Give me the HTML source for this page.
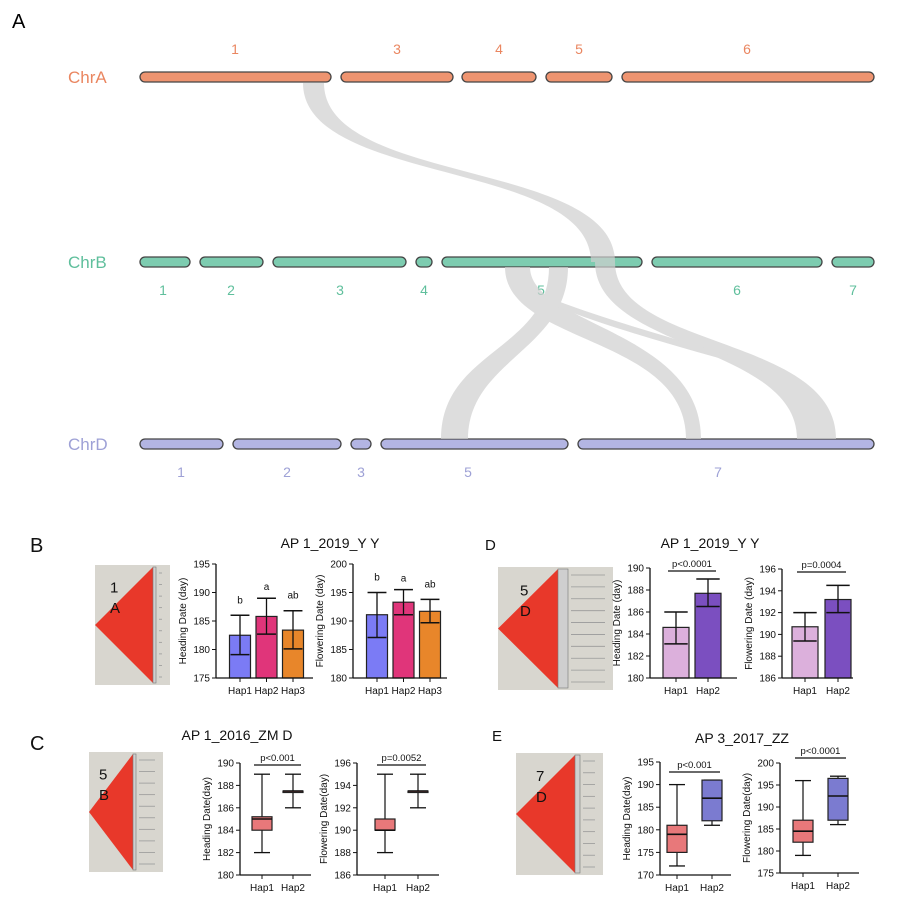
<!DOCTYPE html>
<html><head><meta charset="utf-8"><style>
html,body{margin:0;padding:0;background:#fff}
svg{display:block;font-family:"Liberation Sans",sans-serif}
</style></head><body>
<svg id="fig" width="924" height="910" viewBox="0 0 924 910" xmlns="http://www.w3.org/2000/svg">
<rect width="924" height="910" fill="#fff"/>
<text x="12" y="28" font-size="20">A</text>
<g id="chroms"></g>
<g id="ribbons" fill="#cfcfcf" opacity="0.7">
<path d="M303,83 C303,185 591,160 591,262 L615,262 C615,160 324,185 324,83 Z"/>
<path d="M595,262 C595,350 797,345 797,439 L836,439 C836,335 615,350 615,262 Z"/>
<path d="M549,267 C549,350 441,350 441,439 L468,439 C468,360 568,350 568,267 Z"/>
<path d="M505,267 C505,345 686,335 686,439 L701,439 C701,330 530,325 530,267 Z"/>
<path d="M555,300 C620,325 700,345 770,368 L770,373 C700,352 620,332 555,306 Z"/>
</g>
<g id="panels"></g>
</svg>
<script>
// Chromosome layout
const chrNames=["ChrA","ChrB","ChrD"];
const chrY=[77,262,444];
const chrFill=["#ee9470","#7dccb0","#b3b5e3"];
const chrText=["#ea8660","#5fbf9c","#9ea1d6"];
const chrSegs=[[[140,331],[341,453],[462,536],[546,612],[622,874]],
[[140,190],[200,263],[273,406],[416,432],[442,642],[652,822],[832,874]],
[[140,223],[233,341],[351,371],[381,568],[578,874]]];
const chrNums=[["1","3","4","5","6"],["1","2","3","4","5","6","7"],["1","2","3","5","7"]];
const chrNumX=[[235,397,499,579,747],[163,231,340,424,541,737,853],[181,287,361,468,718]];
const chrNumY=[54,295,477];

const NS="http://www.w3.org/2000/svg";
function mk(tag,attrs,parent,txt){const e=document.createElementNS(NS,tag);for(const k in attrs)e.setAttribute(k,attrs[k]);if(txt!==undefined)e.textContent=txt;parent.appendChild(e);return e;}
const cg=document.getElementById('chroms');
chrNames.forEach((n,i)=>{
  const t=mk('text',{x:68,y:chrY[i]+6,'font-size':17,fill:chrText[i]},cg,n);
  
  
  chrSegs[i].forEach(s=>{
    const r=mk('rect',{x:s[0],y:chrY[i]-5,width:s[1]-s[0],height:10,rx:5,fill:chrFill[i],stroke:'#444','stroke-width':1.3},cg);
    
    
  });
  chrNums[i].forEach((lab,j)=>{
    const tt=mk('text',{x:chrNumX[i][j],y:chrNumY[i],'font-size':14,fill:chrText[i],'text-anchor':'middle'},cg,lab);
    
    
  });
});

const pg=document.getElementById('panels');
function txt(x,y,s,size,name,anchor,extra){const t=mk('text',Object.assign({x:x,y:y,'font-size':size,'text-anchor':anchor||'start',fill:'#111'},extra||{}),pg,s);return t;}
txt(30,552,"B",20,"panel-label-b");
txt(485,550,"D",15,"panel-label-d");
txt(30,750,"C",20,"panel-label-c");
txt(492,741,"E",15,"panel-label-e");
txt(330,548,"AP 1_2019_Y Y",14,"title-b","middle");
txt(710,548,"AP 1_2019_Y Y",14,"title-d","middle");
txt(237,740,"AP 1_2016_ZM D",14,"title-c","middle");
txt(742,743,"AP 3_2017_ZZ",14,"title-e","middle");

// LD heatmaps (images)
function ld(x,y,w,h,tipX,redR,boxR,l1,l2,lx,name){
  const g=mk('g',{},pg);
  mk('rect',{x:x,y:y,width:w,height:h,fill:'#d8d6cf'},g);
  mk('polygon',{points:`${x},${y+h/2} ${redR},${y+2} ${redR},${y+h-2}`,fill:'#e8382a'},g);
  mk('rect',{x:redR,y:y+2,width:boxR-redR,height:h-4,fill:'#cfcfcf',stroke:'#777','stroke-width':0.6},g);
  for(let k=0;k<10;k++){mk('line',{x1:boxR+3,x2:x+w-8,y1:y+8+k*(h-16)/9,y2:y+8+k*(h-16)/9,stroke:'#999','stroke-width':0.8},g);}
  mk('text',{x:lx,y:y+h*0.23,'font-size':15,fill:'#111'},g,l1);
  mk('text',{x:lx,y:y+h*0.4,'font-size':15,fill:'#111'},g,l2);
}
ld(95,565,75,120,95,153,156,"1","A",110,"ld-heatmap-1a");
ld(498,567,115,123,498,558,568,"5","D",520,"ld-heatmap-5d");
ld(89,752,74,120,89,133,136,"5","B",99,"ld-heatmap-5b");
ld(516,753,87,122,516,575,580,"7","D",536,"ld-heatmap-7d");

// ---- chart data ----
const cats3=["Hap1","Hap2","Hap3"];
const cats2=["Hap1","Hap2"];
const bHeadMean=[182.5,185.8,183.4];
const bHeadLo=[179.1,182.7,180.1];
const bHeadHi=[186.0,189.0,186.8];
const bHeadTicks=[175,180,185,190,195];
const bHeadLetters=["b","a","ab"];
const bFlowMean=[191.1,193.3,191.7];
const bFlowLo=[187.1,191.1,189.7];
const bFlowHi=[195.0,195.5,193.8];
const bFlowTicks=[180,185,190,195,200];
const bFlowLetters=["b","a","ab"];
const dHeadMean=[184.6,187.7];
const dHeadLo=[183.1,186.5];
const dHeadHi=[186.0,189.0];
const dHeadTicks=[180,182,184,186,188,190];
const dFlowMean=[190.7,193.2];
const dFlowLo=[189.4,192.0];
const dFlowHi=[192.0,194.5];
const dFlowTicks=[186,188,190,192,194,196];
const cHeadMin=[182,186],cHeadQ1=[184,187.5],cHeadMed=[185,187.5],cHeadQ3=[185.2,187.5],cHeadMax=[189,189];
const cHeadTicks=[180,182,184,186,188,190];
const cFlowMin=[188,192],cFlowQ1=[190,193.5],cFlowMed=[190,193.5],cFlowQ3=[191,193.5],cFlowMax=[195,195];
const cFlowTicks=[186,188,190,192,194,196];
const eHeadMin=[172,181],eHeadQ1=[175,182],eHeadMed=[179,187],eHeadQ3=[181,191],eHeadMax=[190,191];
const eHeadTicks=[170,175,180,185,190,195];
const eFlowMin=[179,186],eFlowQ1=[182,187],eFlowMed=[184.5,192.5],eFlowQ3=[187,196.5],eFlowMax=[196,197];
const eFlowTicks=[175,180,185,190,195,200];

function axes(o){
  const g=mk('g',{},pg);
  const vmin=o.ticks[0],vmax=o.ticks[o.ticks.length-1];
  const Y=v=>o.yB-(v-vmin)/(vmax-vmin)*(o.yB-o.yT);
  const X=i=>o.x0+o.pad+i*o.step;
  o.ticks.forEach(t=>{mk('line',{x1:o.x0-4,x2:o.x0,y1:Y(t),y2:Y(t),stroke:'#111','stroke-width':1},g);
    const tl=mk('text',{x:o.x0-6,y:Y(t)+3.5,'font-size':o.fs||10,'text-anchor':'end',fill:'#111'},g,t);
    });
  o.cats.forEach((c,i)=>{mk('line',{x1:X(i),x2:X(i),y1:o.yB,y2:o.yB+4,stroke:'#111'},g);
    const cl=mk('text',{x:X(i),y:o.yB+16,'font-size':o.fs||10,'text-anchor':'middle',fill:'#111'},g,c);
    });
  const yl=mk('text',{x:0,y:0,'font-size':10,'text-anchor':'middle',fill:'#111',transform:`translate(${o.x0-30},${(o.yT+o.yB)/2}) rotate(-90)`},g,o.ylab);
  
  return {g,X,Y};
}
function drawAxisLines(g,o){mk('line',{x1:o.x0,x2:o.x0,y1:o.yT,y2:o.yB,stroke:'#111','stroke-width':1.3},g);
  mk('line',{x1:o.x0,x2:o.x1,y1:o.yB,y2:o.yB,stroke:'#111','stroke-width':1.3},g);}
function bars(o,mean,lo,hi,colors,letters){
  const {g,X,Y}=axes(o);
  mean.forEach((m,i)=>{
    const r=mk('rect',{x:X(i)-o.bw/2,y:Y(m),width:o.bw,height:o.yB-Y(m),fill:colors[i],stroke:'#222','stroke-width':1.2},g);
    
    mk('line',{x1:X(i),x2:X(i),y1:Y(lo[i]),y2:Y(hi[i]),stroke:'#111','stroke-width':1.3},g);
    [lo[i],hi[i]].forEach(v=>mk('line',{x1:X(i)-o.bw*0.45,x2:X(i)+o.bw*0.45,y1:Y(v),y2:Y(v),stroke:'#111','stroke-width':1.5},g));
    if(letters){const l=mk('text',{x:X(i),y:Y(hi[i])-8-(i===1?0:4),'font-size':10,'text-anchor':'middle',fill:'#111'},g,letters[i]);
      }
  });
  drawAxisLines(g,o);return {g,X,Y};
}
function boxes(o,mn,q1,md,q3,mx,colors){
  const {g,X,Y}=axes(o);
  mn.forEach((v,i)=>{
    mk('line',{x1:X(i),x2:X(i),y1:Y(mn[i]),y2:Y(mx[i]),stroke:'#111','stroke-width':1.2},g);
    [mn[i],mx[i]].forEach(w=>mk('line',{x1:X(i)-o.bw*0.4,x2:X(i)+o.bw*0.4,y1:Y(w),y2:Y(w),stroke:'#111','stroke-width':1.3},g));
    const r=mk('rect',{x:X(i)-o.bw/2,y:Y(q3[i]),width:o.bw,height:Math.max(1.5,Y(q1[i])-Y(q3[i])),fill:colors[i],stroke:'#222','stroke-width':1.2},g);
    
    mk('line',{x1:X(i)-o.bw/2,x2:X(i)+o.bw/2,y1:Y(md[i]),y2:Y(md[i]),stroke:'#111','stroke-width':1.6},g);
  });
  drawAxisLines(g,o);return {g,X,Y};
}
function pval(res,o,label,ly){
  const g=res.g;mk('line',{x1:res.X(0)-8,x2:res.X(1)+8,y1:ly,y2:ly,stroke:'#111','stroke-width':1.2},g);
  const t=mk('text',{x:(res.X(0)+res.X(1))/2,y:ly-4,'font-size':9.5,'text-anchor':'middle',fill:'#111'},g,label);
  
}

bars({name:'chart-b-heading',x0:216,x1:313,yT:564,yB:678,ticks:bHeadTicks,cats:cats3,pad:24,step:26.5,bw:21,ylab:'Heading Date (day)'},
  bHeadMean,bHeadLo,bHeadHi,["#7b7bf5","#e0357a","#e8862a"],bHeadLetters);
bars({name:'chart-b-flowering',x0:353,x1:447,yT:564,yB:678,ticks:bFlowTicks,cats:cats3,pad:24,step:26.5,bw:21,ylab:'Flowering Date (day)'},
  bFlowMean,bFlowLo,bFlowHi,["#7b7bf5","#e0357a","#e8862a"],bFlowLetters);
let r;
r=bars({name:'chart-d-heading',x0:650,x1:737,yT:568,yB:678,ticks:dHeadTicks,cats:cats2,pad:26,step:32,bw:26,ylab:'Heading Date (day)'},
  dHeadMean,dHeadLo,dHeadHi,["#dcb0dc","#7b4fc0"]);
pval(r,null,"p<0.0001",571);
r=bars({name:'chart-d-flowering',x0:782,x1:853,yT:569,yB:678,ticks:dFlowTicks,cats:cats2,pad:23,step:33,bw:26,ylab:'Flowering Date (day)'},
  dFlowMean,dFlowLo,dFlowHi,["#dcb0dc","#7b4fc0"]);
pval(r,null,"p=0.0004",572);
r=boxes({name:'chart-c-heading',x0:240,x1:311,yT:763,yB:875,ticks:cHeadTicks,cats:cats2,pad:22,step:31,bw:20,ylab:'Heading Date(day)'},
  cHeadMin,cHeadQ1,cHeadMed,cHeadQ3,cHeadMax,["#e8787a","#e8787a"]);
pval(r,null,"p<0.001",765);
r=boxes({name:'chart-c-flowering',x0:357,x1:439,yT:763,yB:875,ticks:cFlowTicks,cats:cats2,pad:28,step:33,bw:20,ylab:'Flowering Date(day)'},
  cFlowMin,cFlowQ1,cFlowMed,cFlowQ3,cFlowMax,["#e8787a","#e8787a"]);
pval(r,null,"p=0.0052",765);
r=boxes({name:'chart-e-heading',x0:660,x1:731,yT:762,yB:875,ticks:eHeadTicks,cats:cats2,pad:17,step:35,bw:20,ylab:'Heading  Date(day)'},
  eHeadMin,eHeadQ1,eHeadMed,eHeadQ3,eHeadMax,["#e8787a","#7b7bd0"]);
pval(r,null,"p<0.001",772);
r=boxes({name:'chart-e-flowering',x0:780,x1:859,yT:763,yB:873,ticks:eFlowTicks,cats:cats2,pad:23,step:35,bw:20,ylab:'Flowering Date(day)'},
  eFlowMin,eFlowQ1,eFlowMed,eFlowQ3,eFlowMax,["#e8787a","#7b7bd0"]);
pval(r,null,"p<0.0001",758);
</script>
</body></html>
